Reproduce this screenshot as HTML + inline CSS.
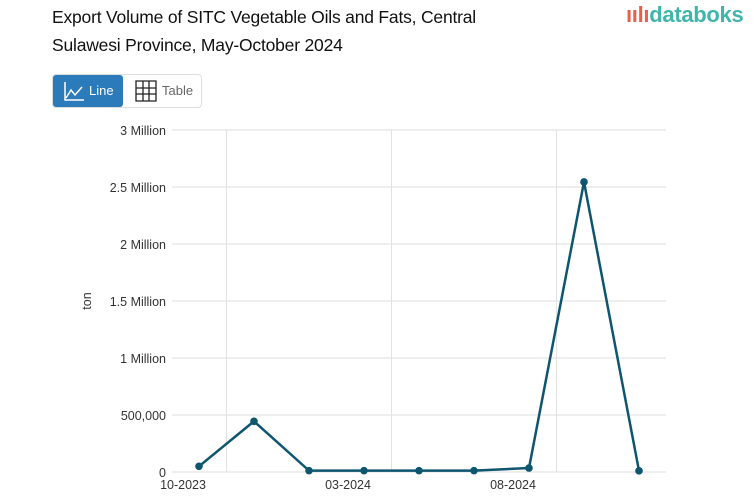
<!DOCTYPE html>
<html><head><meta charset="utf-8"><style>
body{margin:0;width:753px;height:498px;background:#fff;font-family:"Liberation Sans",sans-serif;overflow:hidden;position:relative}
#title{position:absolute;left:52px;top:3px;font-size:17.5px;line-height:28px;color:#111;letter-spacing:-0.2px}
#logo{position:absolute;left:626px;top:2px;font-size:22px;color:#3fb6a8;font-weight:bold;letter-spacing:-0.3px}
#toggle{position:absolute;left:52px;top:74px;width:150px;height:34px;border:1px solid #ddd;border-radius:4px;box-sizing:border-box}
#btn-line{position:absolute;left:0;top:0;width:70px;height:32px;background:#2b7bba;border-radius:3px;color:#fff;font-size:13px}
#btn-table{position:absolute;left:80px;top:0;width:70px;height:32px;color:#666;font-size:13px}
</style></head><body>
<div id="title">Export Volume of SITC Vegetable Oils and Fats, Central<br>Sulawesi Province, May-October 2024</div>
<div id="logo"><span style="color:#e8604c">ıılı</span>databoks</div>
<div id="toggle">
<div id="btn-line">
<svg width="22" height="22" style="position:absolute;left:10px;top:5px"><path d="M2 2V20H21M3 18L8 10L12 15L19 7" stroke="#fff" stroke-width="1.5" fill="none"/></svg>
<span style="position:absolute;left:36px;top:8px">Line</span></div>
<div id="btn-table">
<svg width="22" height="22" style="position:absolute;left:2px;top:5px"><path d="M1 1H21V21H1ZM1 8H21M1 14H21M8 1V21M14 1V21" stroke="#222" stroke-width="1.3" fill="none"/></svg>
<span style="position:absolute;left:29px;top:8px;">Table</span></div>
</div>
<svg id="chart" width="753" height="498" style="position:absolute;left:0;top:0"></svg>
<script>
const categories=["10-2023","12-2023","01-2024","03-2024","04-2024","05-2024","08-2024","09-2024","10-2024"];
const values=[50000,445000,12000,12000,12000,12000,35000,2544000,10000];
const yTicks=[0,500000,1000000,1500000,2000000,2500000,3000000];
const yTickLabels=["0","500,000","1 Million","1.5 Million","2 Million","2.5 Million","3 Million"];
const xLabelIdx=[0,3,6];
const NS="http://www.w3.org/2000/svg";
const svg=document.getElementById('chart');
const L=172,R=666,T=130,B=472,yMax=3000000,x0=199,step=55;
const xs=i=>x0+i*step, ys=v=>B-(v/yMax)*(B-T);
function mk(t,a){const e=document.createElementNS(NS,t);for(const k in a)e.setAttribute(k,a[k]);svg.appendChild(e);return e;}
yTicks.forEach((t,i)=>{
 const g=mk('line',{x1:L,x2:R,y1:ys(t),y2:ys(t),stroke:'#ddd','stroke-width':1});
 
 
 const tx=mk('text',{x:L-6,y:ys(t)+5,'text-anchor':'end','font-size':12.5,fill:'#333'});
 tx.textContent=yTickLabels[i];
 
 
});
xLabelIdx.forEach(i=>{
 const gx=xs(i)+step/2;
 const g=mk('line',{x1:gx,x2:gx,y1:T,y2:B,stroke:'#e2e2e2','stroke-width':1});
 
 
 const tx=mk('text',{x:xs(i)-16,y:B+17,'text-anchor':'middle','font-size':12.5,fill:'#333'});
 tx.textContent=categories[i];
 
 
});
const yt=mk('text',{x:91,y:301,'text-anchor':'middle','font-size':12.5,fill:'#333',transform:'rotate(-90 91 301)'});
yt.textContent='ton';


const p=mk('polyline',{points:values.map((v,i)=>xs(i)+','+ys(v)).join(' '),fill:'none',stroke:'#0e5570','stroke-width':2.5,'stroke-linejoin':'round'});


values.forEach((v,i)=>{
 const c=mk('circle',{cx:xs(i),cy:ys(v),r:3.8,fill:'#0e5570'});
 
 
});
</script>
</body></html>
